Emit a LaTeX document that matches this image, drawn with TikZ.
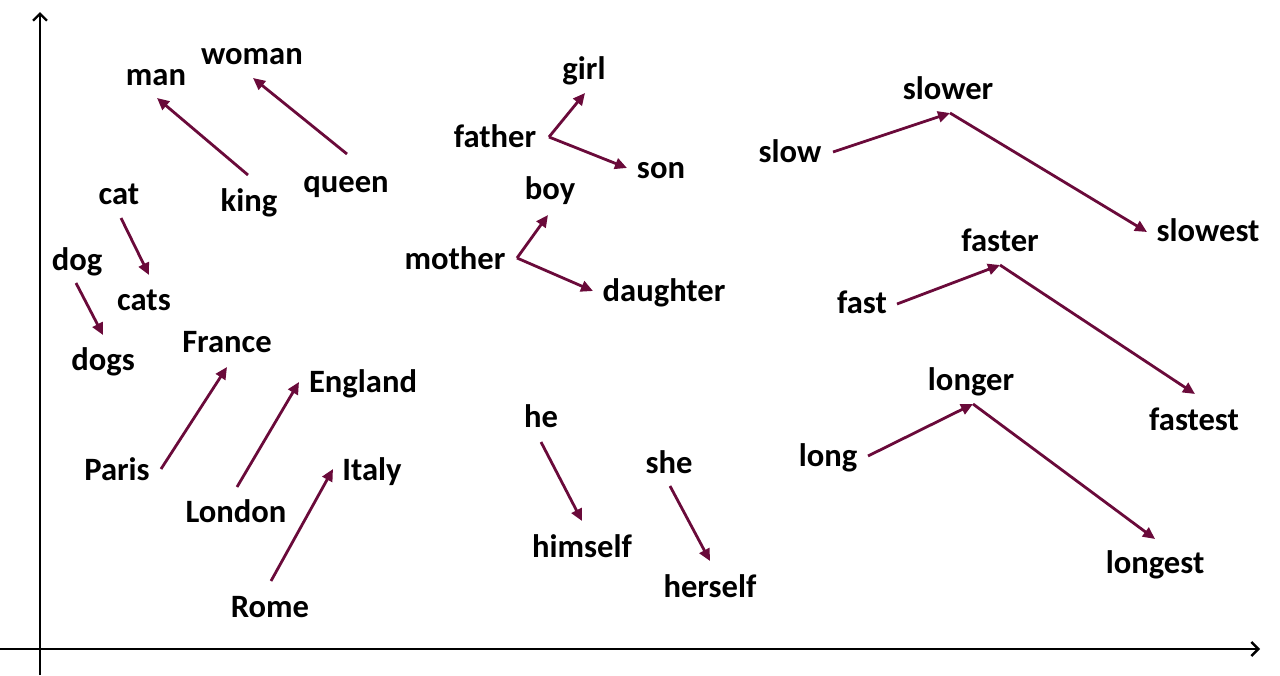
\documentclass[tikz,border=0pt]{standalone}
\usepackage{fontspec}
\setmainfont{Carlito}
\usetikzlibrary{arrows.meta}
\definecolor{arrowc}{RGB}{106,10,58}
\tikzset{
  word/.style={anchor=base,inner sep=0pt,font=\fontsize{32.6}{36}\selectfont\bfseries},
  vec/.style={draw=arrowc,line width=2.8pt,-{Triangle[length=12pt,width=11pt]}},
  axis/.style={draw=black,line width=2.6pt,-{Straight Barb[length=7pt,width=14pt,line width=2.4pt]}}
}
\begin{document}
\begin{tikzpicture}[x=1pt,y=-1pt]
\useasboundingbox (0,0) rectangle (1280,675);
% axes
\coordinate (ax0) at (40,675);
\coordinate (ax1) at (40,12);
\coordinate (ay0) at (0,649);
\coordinate (ay1) at (1260,649);
\draw[axis] (ax0) -- (ax1);
\draw[axis] (ay0) -- (ay1);
% words
\node[word] (man) at (156,85) {man};
\node[word] (woman) at (252,64) {woman};
\node[word] (king) at (249,211) {king};
\node[word] (queen) at (346,192) {queen};
\node[word] (cat) at (119,204) {cat};
\node[word] (cats) at (144,310) {cats};
\node[word] (dog) at (77,270) {dog};
\node[word] (dogs) at (103,370) {dogs};
\node[word] (France) at (227,352) {France};
\node[word] (England) at (363,392) {England};
\node[word] (Paris) at (117,480) {Paris};
\node[word] (London) at (236,522) {London};
\node[word] (Rome) at (270,617) {Rome};
\node[word] (Italy) at (372,480) {Italy};
\node[word] (girl) at (584,79) {girl};
\node[word] (father) at (495,147) {father};
\node[word] (son) at (661,178) {son};
\node[word] (boy) at (550,199) {boy};
\node[word] (mother) at (455,269) {mother};
\node[word] (daughter) at (664,301) {daughter};
\node[word] (he) at (541,427) {he};
\node[word] (himself) at (582,557) {himself};
\node[word] (she) at (669,473) {she};
\node[word] (herself) at (710,597) {herself};
\node[word] (slow) at (790,162) {slow};
\node[word] (slower) at (948,99) {slower};
\node[word] (slowest) at (1208,241) {slowest};
\node[word] (fast) at (862,313) {fast};
\node[word] (faster) at (1000,251) {faster};
\node[word] (fastest) at (1194,430) {fastest};
\node[word] (long) at (828,466) {long};
\node[word] (longer) at (971,390) {longer};
\node[word] (longest) at (1155,573) {longest};
% arrow end points
\coordinate (king-s) at (248,175);   \coordinate (man-e) at (157,98);
\coordinate (queen-s) at (347,154);  \coordinate (woman-e) at (253,78);
\coordinate (cat-s) at (121,218);    \coordinate (cats-e) at (149,275);
\coordinate (dog-s) at (76,283);     \coordinate (dogs-e) at (103,335);
\coordinate (Paris-s) at (161,469);  \coordinate (France-e) at (227,367);
\coordinate (London-s) at (237,487); \coordinate (England-e) at (299,382);
\coordinate (Rome-s) at (271,581);   \coordinate (Italy-e) at (333,469);
\coordinate (father-c) at (549,137); \coordinate (girl-e) at (585,93); \coordinate (son-e) at (627,168);
\coordinate (mother-c) at (517,258); \coordinate (boy-e) at (548,215); \coordinate (daughter-e) at (593,291);
\coordinate (he-s) at (541,442);     \coordinate (himself-e) at (582,521);
\coordinate (she-s) at (670,486);    \coordinate (herself-e) at (710,561);
\coordinate (slow-s) at (833,152);   \coordinate (slower-c) at (950,113); \coordinate (slowest-e) at (1147,232);
\coordinate (fast-s) at (897,304);   \coordinate (faster-c) at (1000,265); \coordinate (fastest-e) at (1195,394);
\coordinate (long-s) at (868,456);   \coordinate (longer-c) at (973,404); \coordinate (longest-e) at (1155,539);
% arrows
\draw[vec] (king-s) -- (man-e);
\draw[vec] (queen-s) -- (woman-e);
\draw[vec] (cat-s) -- (cats-e);
\draw[vec] (dog-s) -- (dogs-e);
\draw[vec] (Paris-s) -- (France-e);
\draw[vec] (London-s) -- (England-e);
\draw[vec] (Rome-s) -- (Italy-e);
\draw[vec] (father-c) -- (girl-e);
\draw[vec] (father-c) -- (son-e);
\draw[vec] (mother-c) -- (boy-e);
\draw[vec] (mother-c) -- (daughter-e);
\draw[vec] (he-s) -- (himself-e);
\draw[vec] (she-s) -- (herself-e);
\draw[vec] (slow-s) -- (slower-c);
\draw[vec] (slower-c) -- (slowest-e);
\draw[vec] (fast-s) -- (faster-c);
\draw[vec] (faster-c) -- (fastest-e);
\draw[vec] (long-s) -- (longer-c);
\draw[vec] (longer-c) -- (longest-e);
\end{tikzpicture}
\end{document}
